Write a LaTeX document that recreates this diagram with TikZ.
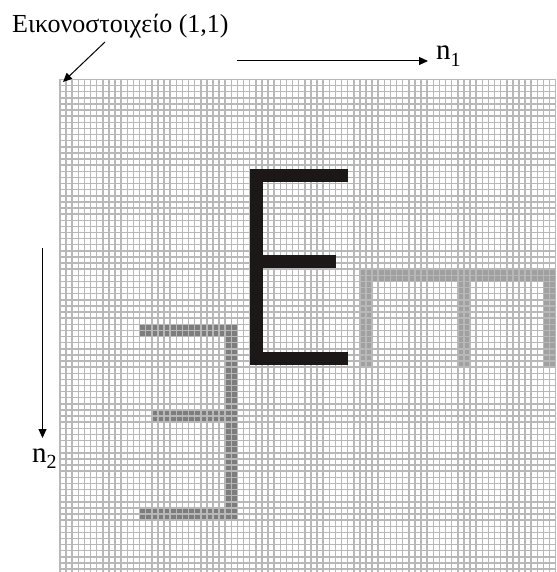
\documentclass[tikz,border=0pt]{standalone}
\usepackage{fontspec}
\setmainfont{Liberation Serif}
\usetikzlibrary{arrows.meta}
\definecolor{gridc}{RGB}{184,184,184}
\definecolor{darkcell}{RGB}{125,125,125}
\definecolor{lightcell}{RGB}{160,160,160}
\definecolor{letterE}{RGB}{28,24,24}
\newcommand\cellrect[5]{\fill[#1] ({60+6.12*#2},{79.5+6.12*#3}) rectangle ({60+6.12*(#4+1)},{79.5+6.12*(#5+1)});}
\tikzset{
  gridline/.style={draw=gridc, line width=1.5pt},
  axisarrow/.style={draw=black, line width=1pt, -{Triangle[length=9pt,width=8pt]}},
  lbltext/.style={inner sep=0pt, font=\fontsize{26}{30}\selectfont},
}
\begin{document}
\begin{tikzpicture}[x=1pt,y=-1pt]
\useasboundingbox (0,0) rectangle (556,572);
\begin{scope}
\clip (0,0) rectangle (556,572);
% gray letters (cells)
\cellrect{darkcell}{13}{40}{28}{41}
\cellrect{darkcell}{27}{40}{28}{71}
\cellrect{darkcell}{15}{54}{28}{55}
\cellrect{darkcell}{13}{70}{28}{71}
\cellrect{lightcell}{49}{31}{80}{32}
\cellrect{lightcell}{49}{31}{50}{46}
\cellrect{lightcell}{65}{31}{66}{46}
\cellrect{lightcell}{79}{31}{80}{46}
% grid
\foreach \i in {0,...,81} \draw[gridline] ({60+6.12*\i},79.5) -- ({60+6.12*\i},572);
\foreach \j in {0,...,80} \draw[gridline] (60,{79.5+6.12*\j}) -- (555.7,{79.5+6.12*\j});
\end{scope}
% black E
\fill[letterE] (250,169) rectangle (263,365);
\fill[letterE] (250,169) rectangle (348,182);
\fill[letterE] (250,255) rectangle (336,268);
\fill[letterE] (250,352) rectangle (348,365);
% labels
\node[lbltext, anchor=base west] (lbl) at (12,33) {Εικονοστοιχείο (1,1)};
\coordinate (lblfoot) at (105,42);
\coordinate (p11) at (63,82);
\draw[axisarrow] (lblfoot) -- (p11);
\node[inner sep=0pt, anchor=base west] (n1) at (436,60) {\fontsize{29}{32}\selectfont n\raisebox{-7pt}{\fontsize{20}{22}\selectfont 1}};
\coordinate (n1start) at (237,61);
\coordinate (n1tip) at (428,61);
\draw[axisarrow] (n1start) -- (n1tip);
\node[inner sep=0pt, anchor=base west] (n2) at (32,462) {\fontsize{29}{32}\selectfont n\raisebox{-6pt}{\fontsize{20}{22}\selectfont 2}};
\coordinate (n2start) at (42.5,248);
\coordinate (n2tip) at (42.5,438);
\draw[axisarrow] (n2start) -- (n2tip);
\end{tikzpicture}
\end{document}
